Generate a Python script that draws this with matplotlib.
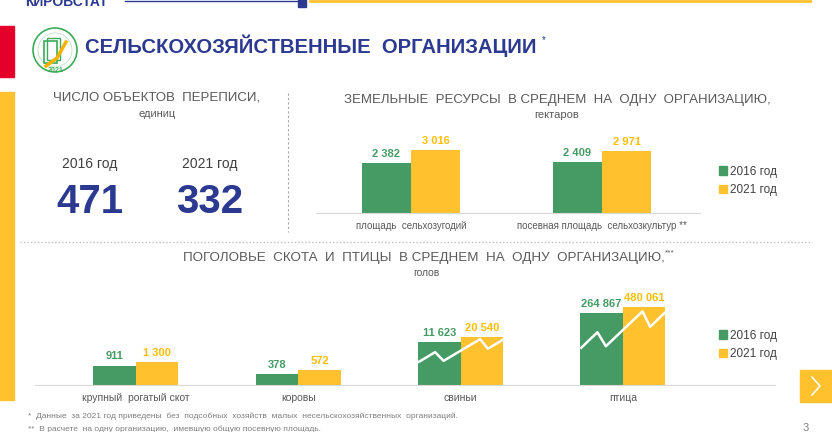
#!/usr/bin/env python3

import numpy as np
import matplotlib.pyplot as plt
from matplotlib.patches import Rectangle, Ellipse, Patch
from matplotlib.lines import Line2D

plt.rcParams['font.family'] = ['Liberation Sans', 'DejaVu Sans']

# ---- data ----
years = ["2016 год", "2021 год"]
objects_count = [471, 332]

land_categories = ["площадь  сельхозугодий", "посевная площадь  сельхозкультур **"]
land_2016 = [2382, 2409]
land_2021 = [3016, 2971]

stock_categories = ["крупный  рогатый скот", "коровы", "свиньи", "птица"]
stock_2016 = [911, 378, 11623, 264867]
stock_2021 = [1300, 572, 20540, 480061]

GREEN = "#459B63"
YELLOW = "#FFC12E"
LABEL_YELLOW = "#FFBF00"
BLUE = "#2B3990"
GRAY = "#595959"

W, H = 832, 432


def fx(x):
    return x / W


def fy(y):
    return 1 - y / H


def fmt(v):
    return f"{v:,}".replace(",", " ")


def main():
    fig = plt.figure(figsize=(8.32, 4.32), dpi=100)

    # header decorations
    fig.add_artist(Line2D([fx(125), fx(298)], [fy(1), fy(1)], color=BLUE, lw=1))
    fig.add_artist(Rectangle((fx(298), fy(7)), fx(8), 7 / H, color=BLUE))
    fig.add_artist(Line2D([fx(310), fx(810)], [fy(1), fy(1)], color=YELLOW, lw=2))
    fig.text(fx(25), fy(2), "КИРОВСТАТ", color=BLUE, fontsize=10, fontweight="bold",
             va="center", ha="left")
    fig.add_artist(Rectangle((0, fy(77)), fx(14), 51 / H, color="#E4002B"))
    fig.add_artist(Rectangle((0, fy(400)), fx(14), 308 / H, color=YELLOW))

    # logo
    fig.add_artist(Ellipse((fx(55), fy(50)), 44 / W, 44 / H, fill=False, ec="#3DAA5A", lw=1.2))
    fig.add_artist(Ellipse((fx(55), fy(50)), 34 / W, 34 / H, fill=False, ec="#BFE0C8", lw=0.6))
    fig.add_artist(Rectangle((fx(44), fy(63)), fx(13), 22 / H, fill=False, ec="#3DAA5A", lw=1.2))
    fig.add_artist(Rectangle((fx(47), fy(60)), fx(13), 22 / H, fill=False, ec="#3DAA5A", lw=1.0))
    fig.text(fx(56), fy(70), "2021", color="#3DAA5A", fontsize=5, fontweight="bold",
             ha="center", va="center")
    fig.add_artist(Line2D([fx(46), fx(57), fx(66)], [fy(66), fy(58), fy(42)],
                          color="#F5B300", lw=2.5))

    fig.text(fx(85), fy(46), "СЕЛЬСКОХОЗЯЙСТВЕННЫЕ  ОРГАНИЗАЦИИ", color=BLUE, fontsize=14.6,
             fontweight="bold", va="center", ha="left")
    fig.text(fx(542), fy(40), "*", color=BLUE, fontsize=7, va="center", ha="left")

    # left panel: number of objects
    fig.text(fx(157), fy(98), "ЧИСЛО ОБЪЕКТОВ  ПЕРЕПИСИ,", color=GRAY, fontsize=9.5,
             ha="center", va="center")
    fig.text(fx(157), fy(114), "единиц", color=GRAY, fontsize=8, ha="center", va="center")
    for xpos, yr, n in zip([90, 210], years, objects_count):
        fig.text(fx(xpos), fy(164), yr, color="#404040", fontsize=10, ha="center", va="center")
        fig.text(fx(xpos), fy(202), str(n), color=BLUE, fontsize=29, fontweight="bold",
                 ha="center", va="center")

    # separators
    fig.add_artist(Line2D([fx(288), fx(288)], [fy(93), fy(232)], color="#A6A6A6",
                          lw=0.8, ls=(0, (2, 2))))
    fig.add_artist(Line2D([fx(20), fx(812)], [fy(242), fy(242)], color="#BFBFBF",
                          lw=1, ls=(0, (1, 1.5))))

    # land chart
    fig.text(fx(557), fy(100), "ЗЕМЕЛЬНЫЕ  РЕСУРСЫ  В СРЕДНЕМ  НА  ОДНУ  ОРГАНИЗАЦИЮ,",
             color=GRAY, fontsize=9.5, ha="center", va="center")
    fig.text(fx(557), fy(115), "гектаров", color=GRAY, fontsize=8, ha="center", va="center")

    ax1 = fig.add_axes([fx(316), fy(213), 384 / W, 130 / H])
    x1 = np.arange(len(land_categories))
    bw1 = 0.257
    ax1.bar(x1 - bw1 / 2, land_2016, bw1, color=GREEN, label=years[0])
    ax1.bar(x1 + bw1 / 2, land_2021, bw1, color=YELLOW, label=years[1])
    for i in range(len(x1)):
        ax1.annotate(fmt(land_2016[i]), (x1[i] - bw1 / 2, land_2016[i]), xytext=(0, 3),
                     textcoords="offset points", ha="center", va="bottom",
                     color=GREEN, fontsize=8, fontweight="bold")
        ax1.annotate(fmt(land_2021[i]), (x1[i] + bw1 / 2, land_2021[i]), xytext=(0, 3),
                     textcoords="offset points", ha="center", va="bottom",
                     color=LABEL_YELLOW, fontsize=8, fontweight="bold")
    ax1.set_xlim(-0.497, 1.513)
    ax1.set_ylim(0, 6200)
    ax1.set_xticks(x1)
    ax1.set_xticklabels(land_categories, color=GRAY, fontsize=7)
    ax1.tick_params(length=0, pad=6)
    ax1.set_yticks([])
    for s in ["top", "right", "left"]:
        ax1.spines[s].set_visible(False)
    ax1.spines["bottom"].set_color("#D9D9D9")
    ax1.patch.set_alpha(0)
    fig.legend(handles=[Patch(color=GREEN, label=years[0]), Patch(color=YELLOW, label=years[1])],
               loc="upper left", bbox_to_anchor=(fx(708), fy(155)), frameon=False,
               fontsize=8.5, handlelength=0.7, handleheight=0.7, handletextpad=0.3,
               labelspacing=0.55, labelcolor="#404040")

    # livestock chart
    fig.text(fx(424), fy(258), "ПОГОЛОВЬЕ  СКОТА  И  ПТИЦЫ  В СРЕДНЕМ  НА  ОДНУ  ОРГАНИЗАЦИЮ,",
             color=GRAY, fontsize=9.6, ha="center", va="center")
    fig.text(fx(665), fy(253), "***", color=GRAY, fontsize=6, ha="left", va="center")
    fig.text(fx(426), fy(273), "голов", color=GRAY, fontsize=7.5, ha="center", va="center")

    ax2 = fig.add_axes([fx(35), fy(385), 740 / W, 110 / H])
    x2 = np.arange(len(stock_categories))
    bw2 = 0.262
    ybot = 113
    ytop = 10 ** 7.2
    ax2.bar(x2 - bw2 / 2, np.array(stock_2016) - ybot, bw2, bottom=ybot, color=GREEN)
    ax2.bar(x2 + bw2 / 2, np.array(stock_2021) - ybot, bw2, bottom=ybot, color=YELLOW)
    ax2.set_yscale("log")
    ax2.set_ylim(ybot, ytop)
    for i in range(len(x2)):
        ax2.annotate(fmt(stock_2016[i]), (x2[i] - bw2 / 2, stock_2016[i]), xytext=(0, 3),
                     textcoords="offset points", ha="center", va="bottom",
                     color=GREEN, fontsize=8, fontweight="bold")
        ax2.annotate(fmt(stock_2021[i]), (x2[i] + bw2 / 2, stock_2021[i]), xytext=(0, 3),
                     textcoords="offset points", ha="center", va="bottom",
                     color=LABEL_YELLOW, fontsize=8, fontweight="bold")

    # decorative zigzag on the two largest groups
    zig_x = np.array([0.01, 0.2, 0.3, 0.73, 0.82, 0.99])
    zig_f = np.array([0.48, 0.68, 0.5, 0.95, 0.75, 0.93])
    lb = np.log10(ybot)
    for i in [2, 3]:
        xs = x2[i] - bw2 + zig_x * 2 * bw2
        ys = 10 ** (lb + zig_f * (np.log10(stock_2021[i]) - lb))
        ax2.plot(xs, ys, color="white", lw=1.8)

    ax2.set_xlim(-0.622, 3.937)
    ax2.set_xticks(x2)
    ax2.set_xticklabels(stock_categories, color=GRAY, fontsize=7.5)
    ax2.tick_params(length=0, pad=6)
    ax2.set_yticks([])
    ax2.minorticks_off()
    ax2.set_yticks([], minor=True)
    for s in ["top", "right", "left"]:
        ax2.spines[s].set_visible(False)
    ax2.spines["bottom"].set_color("#D9D9D9")
    ax2.patch.set_alpha(0)
    fig.legend(handles=[Patch(color=GREEN, label=years[0]), Patch(color=YELLOW, label=years[1])],
               loc="upper left", bbox_to_anchor=(fx(708), fy(319)), frameon=False,
               fontsize=8.5, handlelength=0.7, handleheight=0.7, handletextpad=0.3,
               labelspacing=0.55, labelcolor="#404040")

    # footnotes
    fig.text(fx(28), fy(416), "*  Данные  за 2021 год приведены  без  подсобных  хозяйств  малых  несельскохозяйственных  организаций.",
             color="#7F7F7F", fontsize=6, ha="left", va="center")
    fig.text(fx(28), fy(429), "**  В расчете  на одну организацию,  имевшую общую посевную площадь.",
             color="#7F7F7F", fontsize=6, ha="left", va="center")
    fig.text(fx(806), fy(428), "3", color="#7F7F7F", fontsize=8, ha="center", va="center")

    # next arrow button
    fig.add_artist(Rectangle((fx(800), fy(402)), fx(32), 32 / H, color=YELLOW))
    fig.add_artist(Line2D([fx(812), fx(820), fx(812)], [fy(377), fy(386), fy(395)],
                          color="white", lw=1.2))

    fig.savefig("out.png", dpi=100)

    return 0


if __name__ == '__main__':
    main()
